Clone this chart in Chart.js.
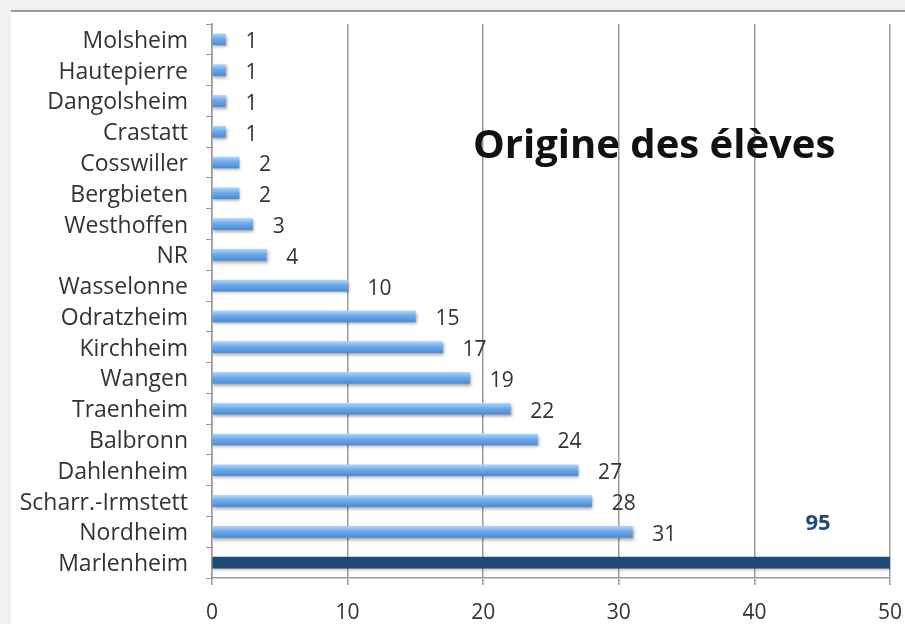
<!DOCTYPE html>
<html>
<head>
<meta charset="utf-8">
<script src="https://cdn.jsdelivr.net/npm/chart.js@4"></script>
<style>
    html, body { margin: 0; padding: 0; }
    body { width: 905px; height: 624px; background: #f1f1f1; position: relative; overflow: hidden; }
    #sheet { position: absolute; left: 11px; top: 10px; right: 0; bottom: 0; background: #fff; border-top: 2px solid #9a9a9a; }
    #chartBox { position: absolute; left: 0; top: 0; width: 905px; height: 624px; }
</style>
</head>
<body>
<div id="sheet"></div>
<div id="chartBox"><canvas id="origineChart" width="905" height="624"></canvas></div>
<script>
// Data
const communes = ['Molsheim', 'Hautepierre', 'Dangolsheim', 'Crastatt', 'Cosswiller', 'Bergbieten',
    'Westhoffen', 'NR', 'Wasselonne', 'Odratzheim', 'Kirchheim', 'Wangen', 'Traenheim', 'Balbronn',
    'Dahlenheim', 'Scharr.-Irmstett', 'Nordheim', 'Marlenheim'];
const eleves = [1, 1, 1, 1, 2, 2, 3, 4, 10, 15, 17, 19, 22, 24, 27, 28, 31, 95];
const xTicks = [0, 10, 20, 30, 40, 50];
const titre = 'Origine des élèves';

const FONT = '"Open Sans", "DejaVu Sans", sans-serif';

// light blue gradient for normal bars, navy for the biggest one
function barColor(context) {
    const chart = context.chart;
    const i = context.dataIndex;
    if (eleves[i] === Math.max(...eleves)) return '#1d4a76';
    if (!chart.chartArea) return '#6aa6e6';
    const y = chart.scales.y.getPixelForValue(i);
    const g = chart.ctx.createLinearGradient(0, y - 5, 0, y + 5);
    g.addColorStop(0, '#a9cff5');
    g.addColorStop(0.45, '#6eaae9');
    g.addColorStop(1, '#4a8fdb');
    return g;
}

// shadow under bars
const shadowPlugin = {
    id: 'barShadow',
    beforeDatasetsDraw(chart) {
        const ctx = chart.ctx;
        ctx.save();
        ctx.shadowColor = 'rgba(0,0,0,0.35)';
        ctx.shadowBlur = 3;
        ctx.shadowOffsetY = 2;
        ctx.shadowOffsetX = 1;
    },
    afterDatasetsDraw(chart) {
        chart.ctx.restore();
    }
};

// value labels + title
const labelPlugin = {
    id: 'valueLabels',
    afterDraw(chart) {
        const ctx = chart.ctx;
        const area = chart.chartArea;
        const meta = chart.getDatasetMeta(0);
        const maxVal = Math.max(...eleves);
        ctx.save();
        ctx.textBaseline = 'middle';
        meta.data.forEach((bar, i) => {
            if (eleves[i] === maxVal) {
                ctx.font = 'bold 22px ' + FONT;
                ctx.fillStyle = '#1d4a76';
                ctx.textAlign = 'center';
                ctx.fillText(String(eleves[i]), Math.min(bar.x, area.right) - 72, bar.y - 39);
            } else {
                ctx.font = '21px ' + FONT;
                ctx.fillStyle = '#333';
                ctx.textAlign = 'left';
                ctx.fillText(String(eleves[i]), bar.x + 20, bar.y + 3);
            }
        });
        ctx.font = 'bold 40px ' + FONT;
        ctx.fillStyle = '#111';
        ctx.textAlign = 'left';
        ctx.fillText(titre, 473, 147);
        ctx.restore();
    }
};

const ctx = document.getElementById('origineChart').getContext('2d');
new Chart(ctx, {
    type: 'bar',
    data: {
        labels: communes,
        datasets: [{
            data: eleves,
            backgroundColor: barColor,
            borderWidth: 0,
            barThickness: 11
        }]
    },
    options: {
        indexAxis: 'y',
        responsive: false,
        animation: false,
        layout: { padding: { top: 24, right: 15, left: 0, bottom: 0 } },
        plugins: {
            legend: { display: false },
            tooltip: { enabled: false },
            title: { display: false }
        },
        scales: {
            x: {
                min: 0,
                max: 50,
                afterBuildTicks(axis) { axis.ticks = xTicks.map(v => ({ value: v })); },
                afterFit(axis) {
                    axis.height = 46;
                    axis.paddingLeft = 0;
                    axis.paddingRight = 0;
                },
                grid: { color: '#9a9a9a', lineWidth: 1.5, tickLength: 7, drawTicks: true },
                border: { color: '#9a9a9a', width: 1.5 },
                ticks: { color: '#333', font: { family: FONT, size: 21 }, padding: 15 }
            },
            y: {
                afterFit(axis) {
                    axis.width = 212;
                    axis.paddingTop = 0;
                    axis.paddingBottom = 0;
                },
                grid: { drawOnChartArea: false, color: '#9a9a9a', tickLength: 6, offset: true },
                border: { color: '#9a9a9a', width: 1.5 },
                ticks: { color: '#333', font: { family: FONT, size: 23 }, padding: 18, labelOffset: 2 }
            }
        }
    },
    plugins: [shadowPlugin, labelPlugin]
});
</script>
</body>
</html>
